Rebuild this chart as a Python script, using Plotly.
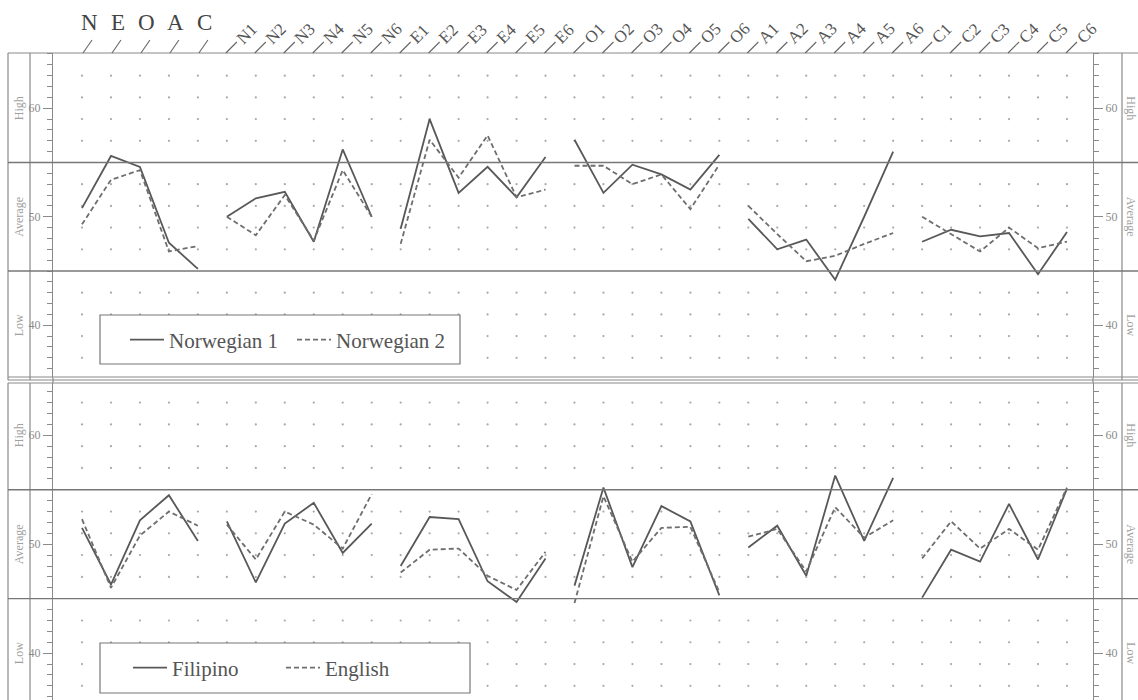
import plotly.graph_objects as go

W, H = 1138, 700
SERIF = "Liberation Serif"

# ---------------- data ----------------
domains = ["N", "E", "O", "A", "C"]
facets = [f"{d}{i}" for d in "NEOAC" for i in range(1, 7)]
categories = domains + facets
group_sizes = [5, 6, 6, 6, 6, 6]
dot_levels = [37, 39, 41, 43, 47, 49, 51, 53, 57, 59, 61, 63]

norwegian1 = [50.8, 55.6, 54.6, 47.6, 45.2,
              50.0, 51.7, 52.3, 47.7, 56.2, 50.0,
              48.9, 59.0, 52.2, 54.6, 51.8, 55.5,
              57.1, 52.2, 54.8, 53.9, 52.5, 55.7,
              49.8, 47.0, 47.9, 44.2, 50.0, 56.0,
              47.7, 48.8, 48.2, 48.5, 44.7, 48.6]
norwegian2 = [49.3, 53.4, 54.3, 46.8, 47.3,
              50.0, 48.3, 52.0, 47.8, 54.3, 50.0,
              47.5, 57.1, 53.6, 57.5, 51.8, 52.5,
              54.7, 54.7, 53.0, 53.9, 50.7, 54.8,
              51.0, 48.4, 45.9, 46.4, 47.5, 48.5,
              50.0, 48.4, 46.8, 49.0, 47.1, 47.7]
filipino = [51.5, 46.3, 52.2, 54.5, 50.3,
            52.1, 46.5, 51.9, 53.8, 49.2, 51.9,
            48.0, 52.5, 52.3, 46.6, 44.7, 48.7,
            46.2, 55.2, 47.9, 53.5, 52.1, 45.3,
            49.7, 51.7, 47.1, 56.3, 50.3, 56.1,
            45.1, 49.5, 48.4, 53.7, 48.6, 55.1]
english = [52.3, 46.0, 50.8, 53.0, 51.7,
           51.8, 48.6, 53.0, 51.8, 49.6, 54.6,
           47.4, 49.5, 49.6, 47.1, 45.8, 49.3,
           44.6, 54.4, 48.4, 51.5, 51.6, 45.6,
           50.7, 51.4, 47.5, 53.4, 50.6, 52.2,
           48.7, 52.1, 49.6, 51.4, 49.5, 55.2]

# ---------------- helpers ----------------
def P(px):
    return px / W

def Q(py):
    return 1 - py / H

COL0, STEP = 82.0, 28.97          # pixel of first column and spacing
X0PX, X1PX = 53.0, 1093.0
xr = [(X0PX - COL0) / STEP, (X1PX - COL0) / STEP]
xdom = [P(X0PX), P(X1PX)]

top_dom = [Q(378), Q(53)]
bot_dom = [0.0, Q(383)]
top_rng = [35.14, 65.09]
bot_rng = [35.70, 64.80]

LINE = "#585858"
DASHC = "#6e6e6e"
GRID = "#a8a8a8"
FRAME = "#8a8a8a"

fig = go.Figure()

# dot grid
for xa, ya in (("x", "y"), ("x2", "y2")):
    gx, gy = [], []
    for c in categories:
        for lv in dot_levels:
            gx.append(c)
            gy.append(lv)
    fig.add_trace(go.Scatter(x=gx, y=gy, mode="markers", xaxis=xa, yaxis=ya,
                             marker=dict(size=2.2, color=GRID), hoverinfo="skip",
                             showlegend=False))

def add_series(vals, name, dash, color, xa, ya, legend):
    i = 0
    for gi, g in enumerate(group_sizes):
        cats = categories[i:i + g]
        ys = vals[i:i + g]
        i += g
        fig.add_trace(go.Scatter(
            x=cats, y=ys, mode="lines", name=name, legendgroup=name,
            showlegend=(gi == 0), legend=legend, xaxis=xa, yaxis=ya,
            line=dict(color=color, width=1.8, dash=dash)))

add_series(norwegian1, "Norwegian 1", "solid", LINE, "x", "y", "legend")
add_series(norwegian2, "Norwegian 2", "5px,3px", DASHC, "x", "y", "legend")
add_series(filipino, "Filipino", "solid", LINE, "x2", "y2", "legend2")
add_series(english, "English", "5px,3px", DASHC, "x2", "y2", "legend2")

# invisible traces for right-hand axes
fig.add_trace(go.Scatter(x=[categories[0]], y=[None], xaxis="x", yaxis="y3", showlegend=False, hoverinfo="skip"))
fig.add_trace(go.Scatter(x=[categories[0]], y=[None], xaxis="x2", yaxis="y4", showlegend=False, hoverinfo="skip"))

xaxis_common = dict(domain=xdom, range=xr, type="category", categoryorder="array",
                    categoryarray=categories, showticklabels=False, ticks="",
                    showgrid=False, zeroline=False, showline=False)
yaxis_common = dict(showgrid=False, zeroline=False, showline=True, linecolor=FRAME,
                    linewidth=1, ticks="outside", ticklen=9, tickcolor=FRAME,
                    tick0=40, dtick=10,
                    minor=dict(ticks="outside", ticklen=5, dtick=1, tick0=35, tickcolor=FRAME),
                    tickfont=dict(family=SERIF, size=12, color="#8c8c8c"))

legend_common = dict(xanchor="left", yanchor="middle", orientation="h",
                     bgcolor="rgba(0,0,0,0)", borderwidth=0, itemwidth=34,
                     entrywidthmode="pixels",
                     font=dict(family=SERIF, size=21, color="#555"))

fig.update_layout(
    width=W, height=H, margin=dict(l=0, r=0, t=0, b=0),
    paper_bgcolor="white", plot_bgcolor="white",
    font=dict(family=SERIF, color="#555"),
    xaxis=dict(**xaxis_common, anchor="y"),
    xaxis2=dict(**xaxis_common, anchor="y2"),
    yaxis=dict(**yaxis_common, domain=top_dom, range=top_rng, anchor="x"),
    yaxis2=dict(**yaxis_common, domain=bot_dom, range=bot_rng, anchor="x2"),
    yaxis3=dict(**yaxis_common, range=top_rng, overlaying="y", side="right", anchor="x"),
    yaxis4=dict(**yaxis_common, range=bot_rng, overlaying="y2", side="right", anchor="x2"),
    legend=dict(**legend_common, x=P(125), y=Q(340), entrywidth=118),
    legend2=dict(**legend_common, x=P(128), y=Q(668), entrywidth=104),
    showlegend=True,
)

shapes = []
def pline(x0, y0, x1, y1, color=FRAME, width=1.2):
    shapes.append(dict(type="line", xref="paper", yref="paper",
                       x0=P(x0), y0=Q(y0), x1=P(x1), y1=Q(y1),
                       line=dict(color=color, width=width)))

# top panel frame
pline(8, 53, W, 53)
pline(8, 377, W, 377)
pline(8, 380, W, 380)
for xv in (8, 30, 1122):
    pline(xv, 53, xv, 380)
# bottom panel frame
pline(8, 383, W, 383)
for xv in (8, 30, 1122):
    pline(xv, 383, xv, H)
# axis lines bridging the gap between panels
pline(X0PX, 378, X0PX, 383)
pline(X1PX, 378, X1PX, 383)
# level lines (55 and 45)
for yref in ("y", "y2"):
    for lv in (45, 55):
        shapes.append(dict(type="line", xref="paper", yref=yref, x0=P(8), x1=1,
                           y0=lv, y1=lv, line=dict(color="#777", width=1.3)))
# legend boxes (white-filled, cover grid dots)
shapes.append(dict(type="rect", xref="paper", yref="paper", x0=P(100), x1=P(460),
                   y0=Q(364), y1=Q(315), fillcolor="white", layer="above",
                   line=dict(color="#777", width=1.2)))
shapes.append(dict(type="rect", xref="paper", yref="paper", x0=P(100), x1=P(470),
                   y0=Q(693), y1=Q(643), fillcolor="white", layer="above",
                   line=dict(color="#777", width=1.2)))
# slashes under domain letters
for i, d in enumerate(domains):
    shapes.append(dict(type="line", xref="x", yref="paper",
                       x0=i + 1 / STEP, x1=i + 10 / STEP, y0=Q(53), y1=Q(40),
                       line=dict(color="#666", width=1.1)))
# slashes leading into facet labels
for j, f in enumerate(facets):
    k = len(domains) + j
    shapes.append(dict(type="line", xref="x", yref="paper",
                       x0=k - 1 / STEP, x1=k + 10 / STEP, y0=Q(53), y1=Q(42),
                       line=dict(color="#666", width=1.1)))

annotations = []
# domain letters
for i, d in enumerate(domains):
    annotations.append(dict(x=i, xref="x", y=Q(22), yref="paper", text=d,
                            showarrow=False, xshift=7, xanchor="center", yanchor="middle",
                            font=dict(family=SERIF, size=23, color="#444")))
# facet labels (rotated)
for j, f in enumerate(facets):
    annotations.append(dict(x=len(domains) + j, xref="x", y=Q(53), yref="paper",
                            text=f, textangle=-45, showarrow=False,
                            xanchor="left", yanchor="bottom", xshift=3, yshift=3,
                            font=dict(family=SERIF, size=17, color="#555")))
# High / Average / Low side labels
for yref in ("y", "y2"):
    for lv, txt in ((60, "High"), (50, "Average"), (40, "Low")):
        annotations.append(dict(x=P(19), xref="paper", y=lv, yref=yref, text=txt,
                                textangle=-90, showarrow=False,
                                xanchor="center", yanchor="middle",
                                font=dict(family=SERIF, size=12, color="#a0a0a0")))
        annotations.append(dict(x=P(1131), xref="paper", y=lv, yref=yref, text=txt,
                                textangle=90, showarrow=False,
                                xanchor="center", yanchor="middle",
                                font=dict(family=SERIF, size=12, color="#a0a0a0")))

fig.update_layout(shapes=shapes, annotations=annotations)
fig.write_html("out.html")
